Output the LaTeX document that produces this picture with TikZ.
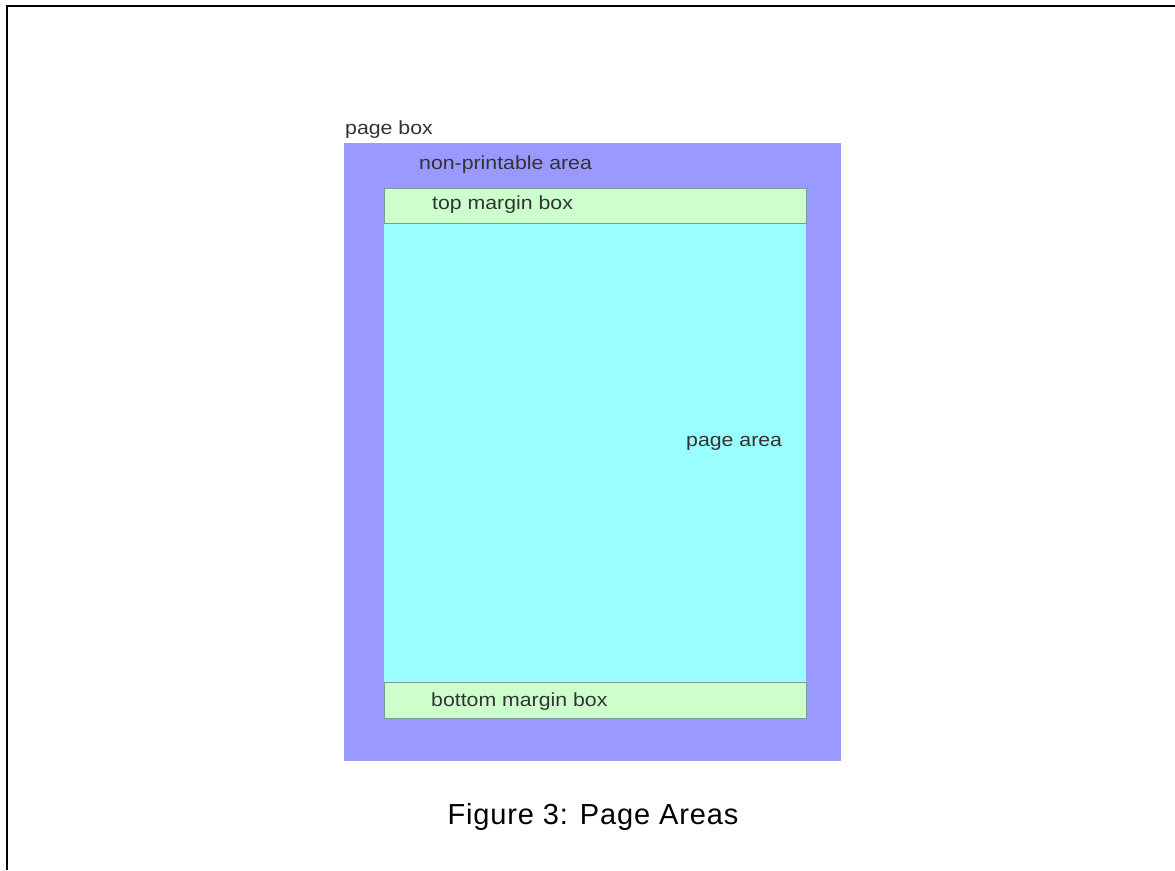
\documentclass[tikz,border=0pt]{standalone}
\usepackage{fontspec}
\setmainfont{Liberation Sans}
\newfontfamily\labfont{Liberation Sans}[FakeStretch=1.12]
\newfontfamily\capfont{Liberation Sans}[LetterSpace=3]
\definecolor{purp}{HTML}{9999FF}
\definecolor{mgreen}{HTML}{CCFFCC}
\definecolor{pcyan}{HTML}{99FFFF}
\definecolor{lbl}{HTML}{333333}
\definecolor{edge}{HTML}{7A9A9A}
\begin{document}
\begin{tikzpicture}[x=1pt,y=-1pt,
  lab/.style={font=\labfont\fontsize{19}{19}\selectfont, text=lbl, inner sep=0pt, anchor=base west},
  area/.style={draw=edge, line width=0.8pt}]
\useasboundingbox (0,0) rectangle (1175,870);
\fill[white] (0,0) rectangle (1175,870);
% frame (top and left only)
\draw[line width=2.5pt, black] (7,870) -- (7,6) -- (1175,6);
% page box
\fill[purp] (344,143) rectangle (841,761);
\node[draw=none, inner sep=0pt, minimum width=497pt, minimum height=618pt, anchor=north west] (pagebox) at (344,143) {};
% page area
\fill[pcyan] (384,223) rectangle (806,682);
\node[inner sep=0pt, minimum width=422pt, minimum height=459pt, anchor=north west] (pagearea) at (384,223) {};
% margin boxes
\filldraw[area, fill=mgreen] (384,188) rectangle (806,223);
\node[inner sep=0pt, minimum width=422pt, minimum height=35pt, anchor=north west] (topmargin) at (384,188) {};
\filldraw[area, fill=mgreen] (384,682) rectangle (806,718);
\node[inner sep=0pt, minimum width=422pt, minimum height=36pt, anchor=north west] (botmargin) at (384,682) {};
% labels
\node[lab] (tpagebox) at (345,134) {page box};
\node[lab] (tnonprint) at (419,169) {non-printable area};
\node[lab] (ttop) at (432,209) {top margin box};
\node[lab] (tpagearea) at (686,446) {page area};
\node[lab] (tbottom) at (431,706) {bottom margin box};
\node[font=\capfont\fontsize{29}{29}\selectfont, inner sep=0pt, anchor=base] (caption) at (593,824) {Figure 3: Page Areas};
\end{tikzpicture}
\end{document}
